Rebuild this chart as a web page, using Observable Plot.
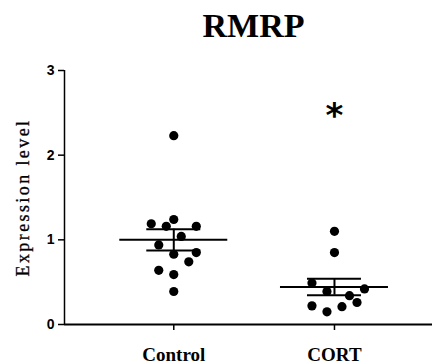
<!DOCTYPE html>
<html>
<head>
<meta charset="utf-8">
<script src="https://cdn.jsdelivr.net/npm/d3@7"></script>
<script src="https://cdn.jsdelivr.net/npm/@observablehq/plot@0.6"></script>
<style>
  html, body { margin: 0; padding: 0; background: #fff; }
  #wrap { position: relative; width: 432px; height: 364px; overflow: hidden; }
  #title { position: absolute; left: 0; top: 9px; width: 432px; padding-left: 75px; box-sizing: border-box;
           text-align: center; font-family: "Liberation Serif", "Times New Roman", serif; font-weight: bold;
           font-size: 34px; line-height: 34px; color: #000; }
  #chart { position: absolute; left: 0; top: 0; }
</style>
</head>
<body>
<div id="wrap">
  <div id="chart"></div>
  <div id="title">RMRP</div>
</div>
<script>
// ---- data ----
const groups = ["Control", "CORT"];
const controlValues = [2.23, 1.24, 1.19, 1.16, 1.16, 1.04, 0.94, 0.85, 0.83, 0.74, 0.64, 0.59, 0.39];
// beeswarm column (slot) of each dot
const controlSlots  = [0, 0, -3, -1, 3, 1, -2, 3, 0, 2, -2, 0, 0];
const cortValues = [1.10, 0.85, 0.49, 0.42, 0.39, 0.34, 0.26, 0.22, 0.21, 0.15];
const cortSlots  = [0, 0, -3, 4, -1, 2, 3, -3, 1, -1];
const yTicks = [0, 1, 2, 3];
const yLabel = "Expression level";
const significance = [{group: "CORT", label: "*"}];
const starLevel = 2.5;

// ---- layout helpers ----
const xDomain = [0.32, 2.61];
const slotStep = 0.0467;
const meanHalf = 0.336, capHalf = 0.168;

const series = [controlValues, cortValues];
const slots = [controlSlots, cortSlots];
const points = [];
series.forEach((vals, gi) => vals.forEach((v, i) => points.push({x: gi + 1 + slots[gi][i] * slotStep, y: v})));
const summary = series.map((vals, gi) => ({
  x: gi + 1,
  mean: d3.mean(vals),
  sem: d3.deviation(vals) / Math.sqrt(vals.length)
}));
const stars = significance.map(s => ({x: groups.indexOf(s.group) + 1, y: starLevel, label: s.label}));

const chart = Plot.plot({
  width: 432, height: 364,
  marginLeft: 64, marginRight: 0, marginTop: 70, marginBottom: 40,
  x: {domain: xDomain, axis: null},
  y: {domain: [0, 3], axis: null},
  style: {background: "white", color: "black", overflow: "visible"},
  marks: [
    Plot.ruleX([xDomain[0]], {y1: 0, y2: 3, strokeWidth: 1.5}),
    Plot.ruleY([0], {strokeWidth: 2}),
    Plot.axisY({ticks: yTicks, tickFormat: d3.format("d"), tickSize: 6, tickPadding: 4, fontSize: 14, fontWeight: "bold",
                fontFamily: "Liberation Sans, Arial, sans-serif", strokeWidth: 1.5, label: null}),
    Plot.axisX({ticks: [1, 2], tickFormat: d => groups[d - 1], tickSize: 6, tickPadding: 17, fontSize: 19,
                fontWeight: "bold", fontFamily: "Liberation Serif, Times New Roman, serif", strokeWidth: 1.5, label: null}),
    Plot.text([yLabel], {frameAnchor: "left", textAnchor: "middle", rotate: -90, dx: -41, text: d => d, fontSize: 18,
                fontFamily: "Liberation Serif, Times New Roman, serif", fill: "black", stroke: "black", strokeWidth: 0.3}),
    Plot.dot(points, {x: "x", y: "y", r: 4.6, fill: "black", stroke: null}),
    Plot.ruleY(summary, {y: "mean", x1: d => d.x - meanHalf, x2: d => d.x + meanHalf, strokeWidth: 2}),
    Plot.ruleY(summary, {y: d => d.mean + d.sem, x1: d => d.x - capHalf, x2: d => d.x + capHalf, strokeWidth: 2}),
    Plot.ruleY(summary, {y: d => d.mean - d.sem, x1: d => d.x - capHalf, x2: d => d.x + capHalf, strokeWidth: 2}),
    Plot.ruleX(summary, {x: "x", y1: d => d.mean - d.sem, y2: d => d.mean + d.sem, strokeWidth: 2}),
    Plot.text(stars, {x: "x", y: "y", text: "label", fontSize: 34, fontWeight: "bold",
                fontFamily: "DejaVu Sans, sans-serif", fill: "black", dy: 3})
  ]
});
chart.querySelectorAll("text").forEach(t => {
  if (t.textContent === yLabel) t.setAttribute("letter-spacing", "2.4");
});
document.getElementById("chart").appendChild(chart);
</script>
</body>
</html>
